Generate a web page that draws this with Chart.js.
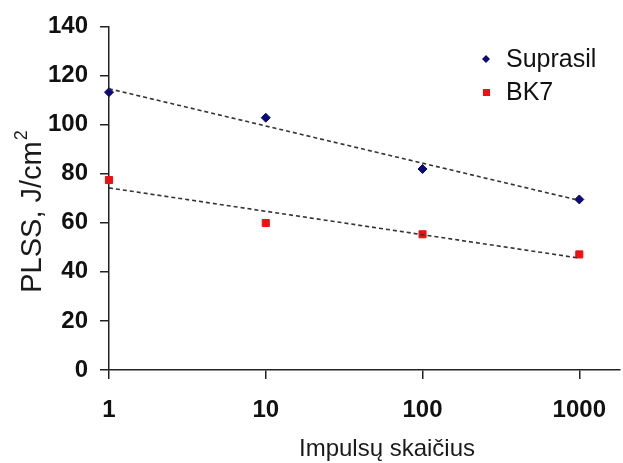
<!DOCTYPE html>
<html>
<head>
<meta charset="utf-8">
<script src="https://cdn.jsdelivr.net/npm/chart.js@4/dist/chart.umd.min.js"></script>
<style>
  html, body { margin: 0; padding: 0; background: #fff; }
  #wrap { width: 623px; height: 463px; position: relative; }
</style>
</head>
<body>
<div id="wrap"><canvas id="c" width="623" height="463"></canvas></div>
<script>
// ---- data ----
const pulses = [1, 10, 100, 1000];
const suprasil = [113.2, 102.8, 81.9, 69.5];
const bk7 = [77.4, 59.9, 55.3, 47.1];
// dashed trend lines (endpoints)
const trendX = [1, 1000];
const trendSuprasil = [114.6, 69.1];
const trendBK7 = [74.2, 45.6];
const xTicks = [1, 10, 100, 1000];
const yTicks = [0, 20, 40, 60, 80, 100, 120, 140];
const seriesNames = ['Suprasil', 'BK7'];
const xTitle = 'Impulsų skaičius';
const yTitle = 'PLSS, J/cm';
const yTitleSup = '2';

const FONT = "'Liberation Sans', Arial, sans-serif";
const pts = (xs, ys) => xs.map((x, i) => ({ x: x, y: ys[i] }));

const overlay = {
  id: 'overlay',
  afterDraw(chart) {
    const ctx = chart.ctx;
    ctx.save();
    ctx.fillStyle = '#1a1a1a';
    // x title
    ctx.font = '24px ' + FONT;
    ctx.textAlign = 'center';
    ctx.textBaseline = 'middle';
    ctx.fillText(xTitle, 387, 449);
    // y title (rotated) with superscript
    ctx.translate(31, 212);
    ctx.rotate(-Math.PI / 2);
    ctx.font = '29px ' + FONT;
    const w1 = ctx.measureText(yTitle).width;
    ctx.font = '18px ' + FONT;
    const w2 = ctx.measureText(yTitleSup).width;
    const start = -(w1 + w2) / 2;
    ctx.textAlign = 'left';
    ctx.textBaseline = 'alphabetic';
    ctx.font = '29px ' + FONT;
    ctx.fillText(yTitle, start, 10);
    ctx.font = '18px ' + FONT;
    ctx.fillText(yTitleSup, start + w1 + 1, -4);
    ctx.restore();

    // legend
    ctx.save();
    const sets = chart.data.datasets.filter(d => d.inLegend);
    sets.forEach((d, i) => {
      const y = 59 + i * 33;
      ctx.fillStyle = d.backgroundColor;
      ctx.beginPath();
      if (d.pointStyle === 'rectRot') {
        ctx.moveTo(486, y - 4); ctx.lineTo(490, y); ctx.lineTo(486, y + 4); ctx.lineTo(482, y);
        ctx.closePath();
      } else {
        ctx.rect(483, y - 3, 7, 7);
      }
      ctx.fill();
      ctx.fillStyle = '#111';
      ctx.font = '25px ' + FONT;
      ctx.textAlign = 'left';
      ctx.textBaseline = 'middle';
      ctx.fillText(d.label, 506, y + 1);
    });
    ctx.restore();
  }
};

new Chart(document.getElementById('c'), {
  type: 'scatter',
  data: {
    datasets: [
      { label: 'trend ' + seriesNames[0], data: pts(trendX, trendSuprasil), showLine: true,
        borderColor: '#333', borderWidth: 1.6, borderDash: [4, 3], pointRadius: 0, fill: false },
      { label: 'trend ' + seriesNames[1], data: pts(trendX, trendBK7), showLine: true,
        borderColor: '#333', borderWidth: 1.6, borderDash: [4, 3], pointRadius: 0, fill: false },
      { label: seriesNames[0], data: pts(pulses, suprasil), inLegend: true,
        pointStyle: 'rectRot', pointRadius: 4.5, backgroundColor: '#0a0a78', borderColor: '#0a0a78', borderWidth: 1 },
      { label: seriesNames[1], data: pts(pulses, bk7), inLegend: true,
        pointStyle: 'rect', pointRadius: 5, backgroundColor: '#ee1111', borderColor: '#ee1111', borderWidth: 1 }
    ]
  },
  options: {
    responsive: false,
    animation: false,
    clip: false,
    layout: { autoPadding: false, padding: { top: 25, right: 0, left: 0, bottom: 0 } },
    plugins: { legend: { display: false }, tooltip: { enabled: false } },
    scales: {
      x: {
        type: 'logarithmic',
        min: 1, max: 1800,
        afterBuildTicks(scale) { scale.ticks = xTicks.map(v => ({ value: v })); },
        afterFit(scale) { scale.height = 93; },
        grid: { drawOnChartArea: false, drawTicks: true, tickLength: 9, color: '#222', lineWidth: 1.5 },
        border: { display: true, color: '#222', width: 1.5 },
        ticks: { color: '#111', font: { family: FONT, size: 24, weight: 'bold' }, padding: 17,
                 maxRotation: 0, autoSkip: false, callback: v => String(v) }
      },
      y: {
        min: 0, max: 140,
        afterBuildTicks(scale) { scale.ticks = yTicks.map(v => ({ value: v })); },
        afterFit(scale) { scale.width = 109; },
        grid: { drawOnChartArea: false, drawTicks: true, tickLength: 9, color: '#222', lineWidth: 1.5 },
        border: { display: true, color: '#222', width: 1.5 },
        ticks: { color: '#111', font: { family: FONT, size: 24, weight: 'bold' }, padding: 12,
                 callback: v => String(v) }
      }
    }
  },
  plugins: [overlay]
});
</script>
</body>
</html>
